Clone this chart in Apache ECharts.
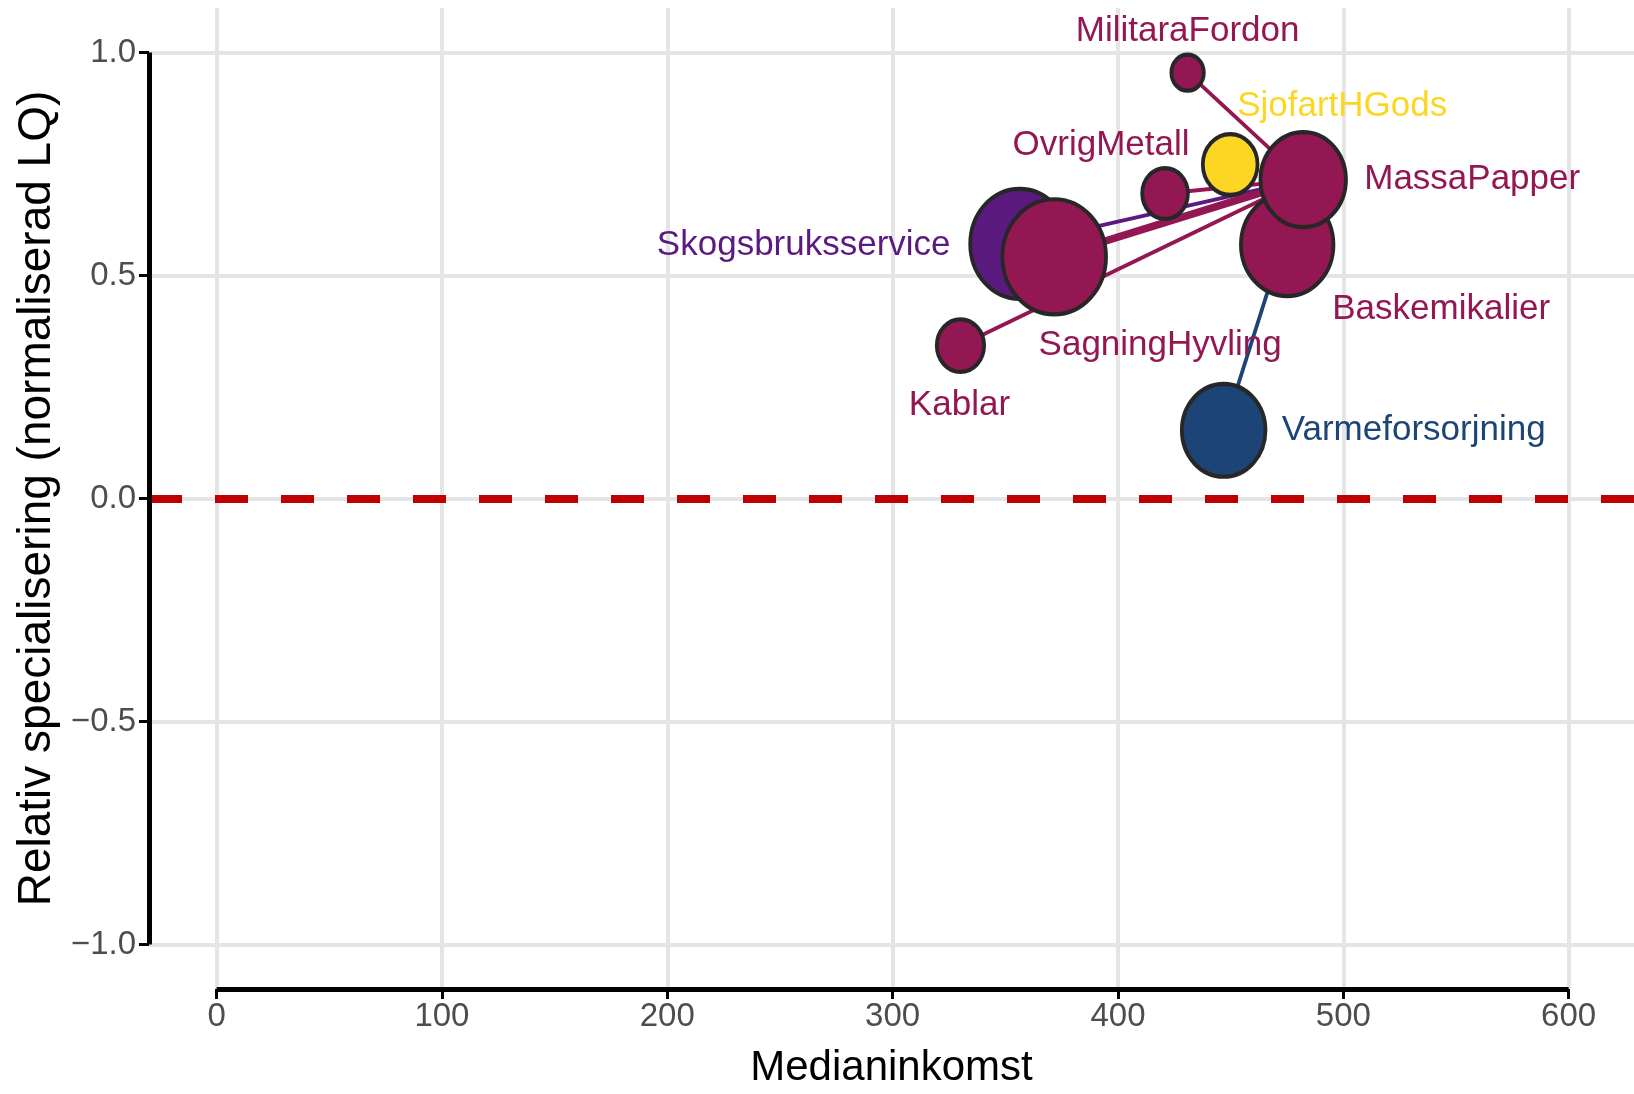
<!DOCTYPE html>
<html>
<head>
<meta charset="utf-8">
<script src="https://cdn.jsdelivr.net/npm/echarts@6/dist/echarts.min.js"></script>
<style>
  html, body { margin: 0; padding: 0; background: #fff; }
  #main { width: 1634px; height: 1094px; }
</style>
</head>
<body>
<div id="main"></div>
<script>
// noder (branscher)
const nodeNames = ['Varmeforsorjning', 'Kablar', 'Skogsbruksservice', 'SagningHyvling', 'OvrigMetall',
  'MilitaraFordon', 'SjofartHGods', 'Baskemikalier', 'MassaPapper'];
const medianinkomst = [446.9, 330.1, 356.4, 371.7, 420.9, 430.9, 449.8, 475.1, 482.2];
const relSpec = [0.153, 0.343, 0.571, 0.542, 0.684, 0.955, 0.749, 0.569, 0.715];
const storlek = [94, 32, 130, 142, 30, 16, 42, 114, 98];
const grupp = ['energi', 'industri', 'skog', 'industri', 'industri', 'industri', 'transport', 'industri', 'industri'];

// kanter
const edgeFrom = ['Varmeforsorjning', 'Kablar', 'Skogsbruksservice', 'SagningHyvling', 'OvrigMetall',
  'MilitaraFordon', 'SjofartHGods', 'Baskemikalier'];
const edgeTo = ['MassaPapper', 'MassaPapper', 'MassaPapper', 'MassaPapper', 'MassaPapper',
  'MassaPapper', 'MassaPapper', 'MassaPapper'];
const edgeWeight = [1, 1, 1, 2, 1, 1, 1, 1];

// axlar
const xTicks = [0, 100, 200, 300, 400, 500, 600];
const yTicks = [-1, -0.5, 0, 0.5, 1];
const yTickLabels = ['\u22121.0', '\u22120.5', '0.0', '0.5', '1.0'];

const FONT = '"Liberation Sans", Arial, sans-serif';
const colors = { energi: '#1D4477', industri: '#931752', skog: '#5B1A80', transport: '#FCD622' };
const X_MIN = -30, X_MAX = 629, Y_MIN = -1.1, Y_MAX = 1.1;

// etikettplacering (px, relativt punkten)
const labelOffset = {
  Varmeforsorjning: [190, 0],
  Kablar: [-1, 60],
  Skogsbruksservice: [-216, 1],
  SagningHyvling: [106, 89],
  OvrigMetall: [-64, -48],
  MilitaraFordon: [0, -41],
  SjofartHGods: [112, -58],
  Baskemikalier: [154, 65],
  MassaPapper: [169, 0]
};

const idx = {};
nodeNames.forEach((n, i) => { idx[n] = i; });

const nodeData = nodeNames.map((n, i) => {
  const h = Math.sqrt(storlek[i]) * 10 - 4;
  return {
    name: n,
    value: [medianinkomst[i], relSpec[i]],
    symbolSize: [h * 0.9, h],
    itemStyle: { color: colors[grupp[i]] },
    label: { offset: labelOffset[n], color: colors[grupp[i]] }
  };
});

const edgeData = edgeFrom.map((f, i) => {
  const a = idx[f], b = idx[edgeTo[i]];
  return {
    coords: [[medianinkomst[a], relSpec[a]], [medianinkomst[b], relSpec[b]]],
    lineStyle: { color: colors[grupp[a]], width: 3.8 * edgeWeight[i] }
  };
});

const gridData = [];
xTicks.forEach(t => gridData.push({ coords: [[t, Y_MIN], [t, Y_MAX]] }));
yTicks.forEach(t => gridData.push({ coords: [[X_MIN, t], [X_MAX, t]] }));

const axisData = [
  { coords: [[X_MIN, yTicks[0]], [X_MIN, yTicks[yTicks.length - 1]]] },
  { coords: [[xTicks[0], Y_MIN], [xTicks[xTicks.length - 1], Y_MIN]] }
];

const chart = echarts.init(document.getElementById('main'));
chart.setOption({
  animation: false,
  backgroundColor: '#fff',
  grid: { left: 149, right: 0, top: 8, bottom: 102 },
  xAxis: {
    type: 'value', min: X_MIN, max: X_MAX,
    axisLine: { show: false, onZero: false },
    splitLine: { show: false },
    axisTick: { show: true, customValues: xTicks, length: 10, lineStyle: { color: '#000', width: 3 } },
    axisLabel: { customValues: xTicks, color: '#4D4D4D', fontSize: 33, fontFamily: FONT, margin: 11 },
    name: 'Medianinkomst', nameLocation: 'middle', nameGap: 58,
    nameTextStyle: { color: '#000', fontSize: 42, fontFamily: FONT }
  },
  yAxis: {
    type: 'value', min: Y_MIN, max: Y_MAX,
    axisLine: { show: false, onZero: false },
    splitLine: { show: false },
    axisTick: { show: true, customValues: yTicks, length: 10, lineStyle: { color: '#000', width: 3 } },
    axisLabel: {
      customValues: yTicks, color: '#4D4D4D', fontSize: 33, fontFamily: FONT, margin: 13,
      formatter: v => yTickLabels[yTicks.indexOf(v)] || ''
    },
    name: 'Relativ specialisering (normaliserad LQ)', nameLocation: 'middle', nameGap: 88, nameRotate: 90,
    nameTextStyle: { color: '#000', fontSize: 46, fontFamily: FONT }
  },
  series: [
    {
      type: 'lines', coordinateSystem: 'cartesian2d', z: 0, silent: true,
      lineStyle: { color: '#E5E5E5', width: 4, opacity: 1 },
      data: gridData
    },
    {
      type: 'lines', coordinateSystem: 'cartesian2d', z: 1, silent: true,
      lineStyle: { color: '#C00000', width: 8, type: [33, 33], opacity: 1 },
      data: [{ coords: [[X_MIN, 0], [X_MAX, 0]] }]
    },
    {
      type: 'lines', coordinateSystem: 'cartesian2d', z: 1, silent: true, clip: false,
      lineStyle: { color: '#000', width: 5, opacity: 1 },
      data: axisData
    },
    {
      type: 'lines', coordinateSystem: 'cartesian2d', z: 2, silent: true,
      lineStyle: { opacity: 1 },
      data: edgeData
    },
    {
      type: 'scatter', z: 3, silent: true,
      symbol: 'circle',
      itemStyle: { borderColor: '#272727', borderWidth: 4, opacity: 1 },
      label: {
        show: true, position: 'inside', formatter: '{b}',
        fontSize: 35, fontFamily: FONT, align: 'center', verticalAlign: 'middle'
      },
      emphasis: { disabled: true },
      data: nodeData
    }
  ]
});
</script>
</body>
</html>
